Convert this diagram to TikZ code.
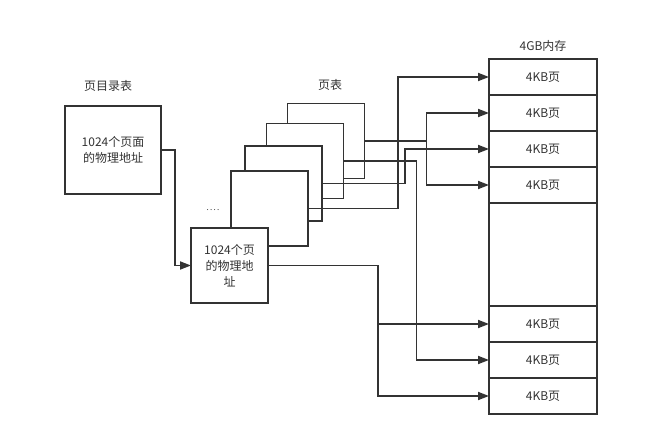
\documentclass[tikz,border=0pt]{standalone}
\usepackage{fontspec}
\setmainfont{Noto Sans CJK SC}
\usetikzlibrary{arrows.meta}

\definecolor{linegray}{HTML}{333333}

\begin{document}
\begin{tikzpicture}[
    x=1pt, y=-1pt,
    >={Triangle[length=11pt, width=8pt]},
    every node/.style={font=\fontsize{12}{16}\selectfont, text=linegray},
    box/.style={draw=linegray, line width=1.8pt, fill=white, inner sep=0pt, outer sep=0pt, align=center},
    pgbox/.style={box, minimum width=77pt, minimum height=75pt},
    cell/.style={box, minimum width=108pt, minimum height=36pt},
    link/.style={draw=linegray, line width=1.8pt}
]

\useasboundingbox (0,0) rectangle (647,443);

% Page directory
\node (dirlabel) at (108,86) {页目录表};
\node[box, minimum width=96pt, minimum height=88pt] (dir) at (113,150) {1024个页面\\的物理地址};

% Page tables, back to front
\node (ptlabel) at (330,85) {页表};
\node[pgbox] (tD) at (326,141) {};
\node[pgbox] (tC) at (305,161) {};
\node[pgbox] (tB) at (283.5,183.5) {};
\node[pgbox] (tA) at (269.5,208.5) {};
\node[anchor=base, font=\footnotesize] (dots) at (213,211) {.\,.\,.\,.};
\node[pgbox] (tFront) at (229.5,265.5) {1024个页\\的物理地\\址};

% 4GB memory
\node (memlabel) at (543,46) {4GB内存};
\foreach \i/\y in {1/77, 2/113, 3/149, 4/185, 5/324, 6/360, 7/396}
    \node[cell] (cell\i) at (543,\y) {4KB页};
\node[box, minimum width=108pt, minimum height=103pt] (free) at (543,254.5) {};

% Directory entry -> page table
\draw[link, ->] (dir.east) -- ++(14,0) |- (tFront.west);

% Page table entries -> 4KB pages
\draw[link, ->] (tD.east) -- ++(62,0) |- (cell2.west);
\draw[link, ->] (tD.east) -- ++(62,0) |- (cell4.west);
\draw[link, ->] (tC.east) -- ++(73,0) |- (cell6.west);
\draw[link, ->] (tB.east) -- ++(83,0) |- (cell3.west);
\draw[link, ->] (tA.east) -- ++(90,0) |- (cell1.west);
\draw[link, ->] (tFront.east) -- ++(110,0) |- (cell5.west);
\draw[link, ->] (tFront.east) -- ++(110,0) |- (cell7.west);

\end{tikzpicture}
\end{document}
